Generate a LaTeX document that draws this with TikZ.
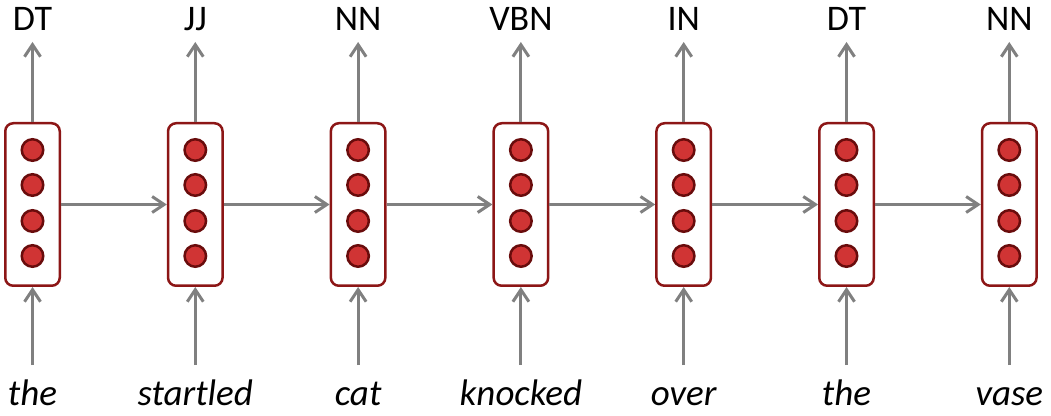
\documentclass[tikz,border=0pt]{standalone}
\usepackage{fontspec}
\setmainfont{Carlito}
\usetikzlibrary{arrows.meta}
\definecolor{cellred}{RGB}{140,22,22}
\definecolor{unitfill}{RGB}{208,52,52}
\definecolor{unitline}{RGB}{105,12,12}
\definecolor{arrowgray}{RGB}{128,128,128}
\begin{document}
\begin{tikzpicture}[x=1pt,y=1pt,
    cell/.style={draw=cellred,line width=2.5pt,fill=white,rounded corners=8pt,
      minimum width=54.5pt,minimum height=162.5pt,inner sep=0pt},
    unit/.style={circle,draw=unitline,fill=unitfill,line width=2.5pt,
      minimum size=21.5pt,inner sep=0pt},
    flow/.style={arrowgray,line width=3pt,-{Straight Barb[length=12pt,width=16pt]}},
    tag/.style={font=\fontsize{36}{40}\selectfont,anchor=base,inner sep=0pt},
    word/.style={font=\fontsize{37}{40}\selectfont\itshape,anchor=base,inner sep=0pt}]

    \useasboundingbox (0,0) rectangle (1051,415);

    %draw cells, tags and words
    \foreach \i/\t/\w in {1/DT/the,2/JJ/startled,3/NN/cat,4/VBN/knocked,5/IN/over,6/DT/the,7/NN/vase} {
        \node[cell] (c\i) at ({32.5+162.8*(\i-1)},210.5) {};
        \foreach \k/\y in {1/265,2/230,3/194,4/159}
            \node[unit] (u\i\k) at ({32.5+162.8*(\i-1)},\y) {};
        \node[tag] (t\i) at ({32.5+162.8*(\i-1)},384) {\t};
        \node[word] (w\i) at ({32.5+162.8*(\i-1)},10) {\w};
        \coordinate (top\i) at ({32.5+162.8*(\i-1)},373);
        \coordinate (bot\i) at ({32.5+162.8*(\i-1)},50);
        %draw input and output arrows
        \draw[flow] (c\i.north) -- (top\i);
        \draw[flow] (bot\i) -- (c\i.south);
    }

    %draw recurrent arrows
    \foreach \i [evaluate=\i as \j using int(\i+1)] in {1,...,6}
        \draw[flow] (c\i.east) -- (c\j.west);

\end{tikzpicture}
\end{document}
